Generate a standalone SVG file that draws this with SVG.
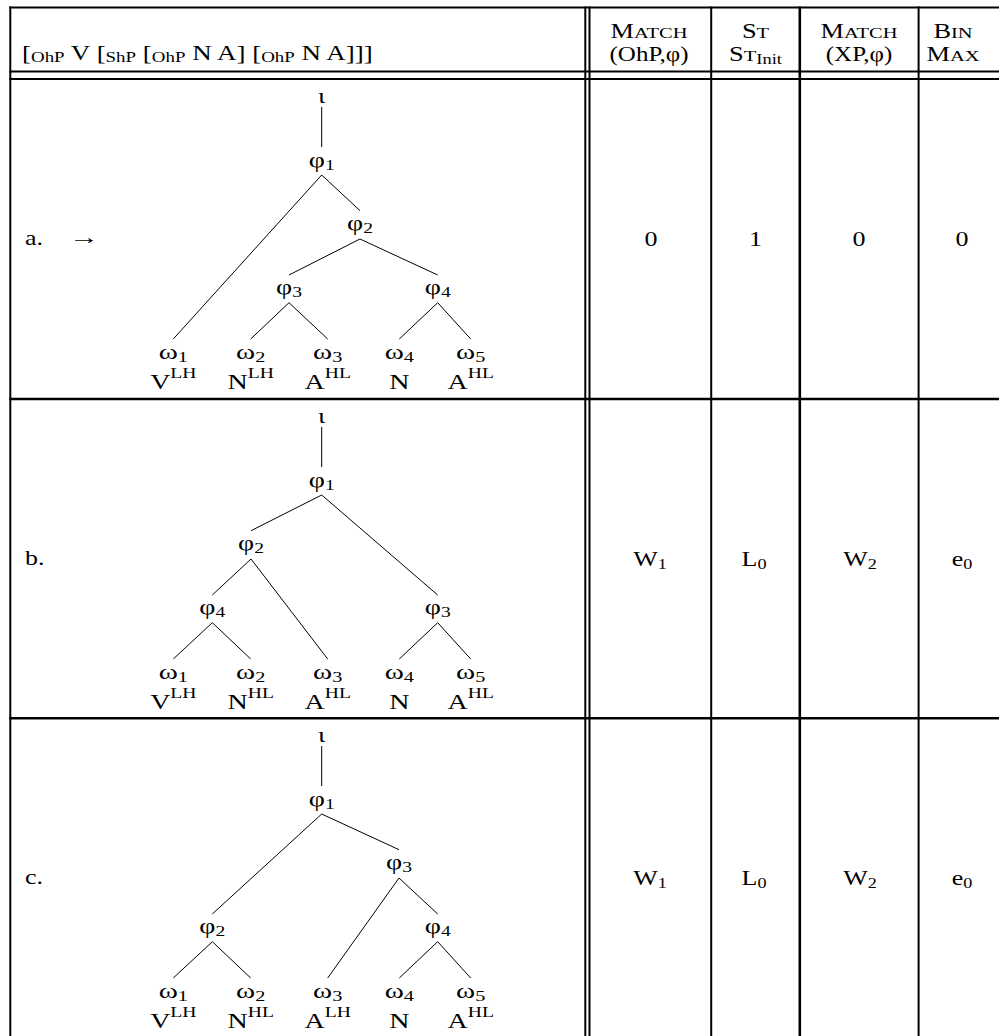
<svg xmlns="http://www.w3.org/2000/svg" width="999" height="1036" viewBox="0 0 999 1036">
<style>
.t{font-family:"Liberation Serif","Times New Roman",serif;font-size:20px;fill:#000}
.m{text-anchor:middle}
.s{font-size:14px}
.sc{font-size:15.5px}
.rule{stroke:#000;stroke-width:2;fill:none}
.rule2{stroke:#000;stroke-width:2.6;fill:none}
.edge{stroke:#000;stroke-width:1;fill:none}
</style>
<rect width="999" height="1036" fill="#fff"/>
<g id="table">
<line class="rule" x1="9.3" y1="7.5" x2="999" y2="7.5"/>
<line class="rule" x1="10.3" y1="6.5" x2="10.3" y2="1036"/>
<line class="rule" x1="9.3" y1="71.5" x2="999" y2="71.5"/>
<line class="rule" x1="9.3" y1="79" x2="999" y2="79"/>
<line class="rule2" x1="9.3" y1="399" x2="999" y2="399"/>
<line class="rule2" x1="9.3" y1="718.3" x2="999" y2="718.3"/>
<line class="rule" x1="585.3" y1="6.5" x2="585.3" y2="1036"/>
<line class="rule" x1="589.5" y1="6.5" x2="589.5" y2="1036"/>
<line class="rule" x1="711.2" y1="6.5" x2="711.2" y2="1036"/>
<line class="rule2" x1="799.8" y1="6.5" x2="799.8" y2="1036"/>
<line class="rule" x1="918.6" y1="6.5" x2="918.6" y2="1036"/>
</g>
<g id="header">
<text class="t" transform="translate(22,60) scale(1.35,1)" xml:space="preserve">[<tspan class="s" dy="2">OhP</tspan><tspan dy="-2"> V [</tspan><tspan class="s" dy="2">ShP</tspan><tspan dy="-2"> [</tspan><tspan class="s" dy="2">OhP</tspan><tspan dy="-2"> N A] [</tspan><tspan class="s" dy="2">OhP</tspan><tspan dy="-2"> N A]]]</tspan></text>
<text class="t m" transform="translate(649,38) scale(1.32,1)">M<tspan class="sc">ATCH</tspan></text>
<text class="t m" transform="translate(649,61) scale(1.25,1)">(OhP,φ)</text>
<text class="t m" transform="translate(755.5,38) scale(1.32,1)">S<tspan class="sc">T</tspan></text>
<text class="t m" transform="translate(755.5,61) scale(1.32,1)">S<tspan class="sc">T</tspan><tspan class="s" dy="3">Init</tspan></text>
<text class="t m" transform="translate(859,38) scale(1.32,1)">M<tspan class="sc">ATCH</tspan></text>
<text class="t m" transform="translate(859,61) scale(1.25,1)">(XP,φ)</text>
<text class="t m" transform="translate(953,38) scale(1.32,1)">B<tspan class="sc">IN</tspan></text>
<text class="t m" transform="translate(953,61) scale(1.32,1)">M<tspan class="sc">AX</tspan></text>
</g>
<g id="row-a">
<text class="t" transform="translate(25,245) scale(1.3,1)">a.</text>
<text class="t m" transform="translate(84,244) scale(1.5,1)">→</text>
<text class="t m" transform="translate(651,245.5) scale(1.3,1)">0</text>
<text class="t m" transform="translate(755.5,245.5) scale(1.3,1)">1</text>
<text class="t m" transform="translate(859,245.5) scale(1.3,1)">0</text>
<text class="t m" transform="translate(962,245.5) scale(1.3,1)">0</text>
</g>
<g id="row-b">
<text class="t" transform="translate(25,565) scale(1.3,1)">b.</text>
<text class="t m" transform="translate(650,565.5) scale(1.3,1)">W<tspan class="s" dy="3">1</tspan></text>
<text class="t m" transform="translate(754,565.5) scale(1.3,1)">L<tspan class="s" dy="3">0</tspan></text>
<text class="t m" transform="translate(860,565.5) scale(1.3,1)">W<tspan class="s" dy="3">2</tspan></text>
<text class="t m" transform="translate(962,565.5) scale(1.3,1)">e<tspan class="s" dy="3">0</tspan></text>
</g>
<g id="row-c">
<text class="t" transform="translate(25,884) scale(1.3,1)">c.</text>
<text class="t m" transform="translate(650,884.5) scale(1.3,1)">W<tspan class="s" dy="3">1</tspan></text>
<text class="t m" transform="translate(754,884.5) scale(1.3,1)">L<tspan class="s" dy="3">0</tspan></text>
<text class="t m" transform="translate(860,884.5) scale(1.3,1)">W<tspan class="s" dy="3">2</tspan></text>
<text class="t m" transform="translate(962,884.5) scale(1.3,1)">e<tspan class="s" dy="3">0</tspan></text>
</g>
<g id="connectors">
<line class="edge" x1="321.7" y1="107" x2="321.7" y2="147"/>
<line class="edge" x1="321.7" y1="175" x2="173.3" y2="339"/>
<line class="edge" x1="321.7" y1="175" x2="360" y2="210.7"/>
<line class="edge" x1="360" y1="239" x2="289" y2="275"/>
<line class="edge" x1="360" y1="239" x2="437.7" y2="275"/>
<line class="edge" x1="289" y1="302.7" x2="250.7" y2="339"/>
<line class="edge" x1="289" y1="302.7" x2="327.7" y2="339"/>
<line class="edge" x1="437.7" y1="302.7" x2="399.3" y2="339"/>
<line class="edge" x1="437.7" y1="302.7" x2="470.7" y2="339"/>
<line class="edge" x1="321.7" y1="427" x2="321.7" y2="467"/>
<line class="edge" x1="321.7" y1="495" x2="251" y2="530.7"/>
<line class="edge" x1="321.7" y1="495" x2="437.7" y2="595"/>
<line class="edge" x1="251" y1="559" x2="212.3" y2="595"/>
<line class="edge" x1="251" y1="559" x2="327.7" y2="659"/>
<line class="edge" x1="212.3" y1="622.7" x2="173.3" y2="659"/>
<line class="edge" x1="212.3" y1="622.7" x2="250.7" y2="659"/>
<line class="edge" x1="437.7" y1="622.7" x2="399.3" y2="659"/>
<line class="edge" x1="437.7" y1="622.7" x2="470.7" y2="659"/>
<line class="edge" x1="321.7" y1="746" x2="321.7" y2="786"/>
<line class="edge" x1="321.7" y1="814" x2="212.3" y2="914"/>
<line class="edge" x1="321.7" y1="814" x2="399" y2="849.7"/>
<line class="edge" x1="399" y1="878" x2="327.7" y2="978"/>
<line class="edge" x1="399" y1="878" x2="437.7" y2="914"/>
<line class="edge" x1="212.3" y1="941.7" x2="173.3" y2="978"/>
<line class="edge" x1="212.3" y1="941.7" x2="250.7" y2="978"/>
<line class="edge" x1="437.7" y1="941.7" x2="399.3" y2="978"/>
<line class="edge" x1="437.7" y1="941.7" x2="470.7" y2="978"/>
</g>
<g id="tree-a">
<g id="a-iota"><text class="t m" transform="translate(321.7,103) scale(1.35,1)">ι</text></g>
<g id="a-phi1"><text class="t m" transform="translate(321.7,166.5) scale(1.4,1)">φ<tspan class="s" dy="3">1</tspan></text></g>
<g id="a-phi2"><text class="t m" transform="translate(360,229.5) scale(1.4,1)">φ<tspan class="s" dy="3">2</tspan></text></g>
<g id="a-phi3"><text class="t m" transform="translate(289,293.8) scale(1.4,1)">φ<tspan class="s" dy="3">3</tspan></text></g>
<g id="a-phi4"><text class="t m" transform="translate(437.7,293.8) scale(1.4,1)">φ<tspan class="s" dy="3">4</tspan></text></g>
<g id="a-w1"><text class="t m" transform="translate(173.3,359) scale(1.45,1)">ω<tspan class="s" dy="3">1</tspan></text><text class="t m" transform="translate(173.3,389) scale(1.4,1)">V<tspan class="s" dy="-11">LH</tspan></text></g>
<g id="a-w2"><text class="t m" transform="translate(250.7,359) scale(1.45,1)">ω<tspan class="s" dy="3">2</tspan></text><text class="t m" transform="translate(250.7,389) scale(1.4,1)">N<tspan class="s" dy="-11">LH</tspan></text></g>
<g id="a-w3"><text class="t m" transform="translate(327.7,359) scale(1.45,1)">ω<tspan class="s" dy="3">3</tspan></text><text class="t m" transform="translate(327.7,389) scale(1.4,1)">A<tspan class="s" dy="-11">HL</tspan></text></g>
<g id="a-w4"><text class="t m" transform="translate(399.3,359) scale(1.45,1)">ω<tspan class="s" dy="3">4</tspan></text><text class="t m" transform="translate(399.3,389) scale(1.4,1)">N</text></g>
<g id="a-w5"><text class="t m" transform="translate(470.7,359) scale(1.45,1)">ω<tspan class="s" dy="3">5</tspan></text><text class="t m" transform="translate(470.7,389) scale(1.4,1)">A<tspan class="s" dy="-11">HL</tspan></text></g>
</g>
<g id="tree-b">
<g id="b-iota"><text class="t m" transform="translate(321.7,423) scale(1.35,1)">ι</text></g>
<g id="b-phi1"><text class="t m" transform="translate(321.7,486.5) scale(1.4,1)">φ<tspan class="s" dy="3">1</tspan></text></g>
<g id="b-phi2"><text class="t m" transform="translate(251,549.5) scale(1.4,1)">φ<tspan class="s" dy="3">2</tspan></text></g>
<g id="b-phi4"><text class="t m" transform="translate(212.3,613.8) scale(1.4,1)">φ<tspan class="s" dy="3">4</tspan></text></g>
<g id="b-phi3"><text class="t m" transform="translate(437.7,613.8) scale(1.4,1)">φ<tspan class="s" dy="3">3</tspan></text></g>
<g id="b-w1"><text class="t m" transform="translate(173.3,679) scale(1.45,1)">ω<tspan class="s" dy="3">1</tspan></text><text class="t m" transform="translate(173.3,709) scale(1.4,1)">V<tspan class="s" dy="-11">LH</tspan></text></g>
<g id="b-w2"><text class="t m" transform="translate(250.7,679) scale(1.45,1)">ω<tspan class="s" dy="3">2</tspan></text><text class="t m" transform="translate(250.7,709) scale(1.4,1)">N<tspan class="s" dy="-11">HL</tspan></text></g>
<g id="b-w3"><text class="t m" transform="translate(327.7,679) scale(1.45,1)">ω<tspan class="s" dy="3">3</tspan></text><text class="t m" transform="translate(327.7,709) scale(1.4,1)">A<tspan class="s" dy="-11">HL</tspan></text></g>
<g id="b-w4"><text class="t m" transform="translate(399.3,679) scale(1.45,1)">ω<tspan class="s" dy="3">4</tspan></text><text class="t m" transform="translate(399.3,709) scale(1.4,1)">N</text></g>
<g id="b-w5"><text class="t m" transform="translate(470.7,679) scale(1.45,1)">ω<tspan class="s" dy="3">5</tspan></text><text class="t m" transform="translate(470.7,709) scale(1.4,1)">A<tspan class="s" dy="-11">HL</tspan></text></g>
</g>
<g id="tree-c">
<g id="c-iota"><text class="t m" transform="translate(321.7,742) scale(1.35,1)">ι</text></g>
<g id="c-phi1"><text class="t m" transform="translate(321.7,805.5) scale(1.4,1)">φ<tspan class="s" dy="3">1</tspan></text></g>
<g id="c-phi3"><text class="t m" transform="translate(399,868.5) scale(1.4,1)">φ<tspan class="s" dy="3">3</tspan></text></g>
<g id="c-phi2"><text class="t m" transform="translate(212.3,932.8) scale(1.4,1)">φ<tspan class="s" dy="3">2</tspan></text></g>
<g id="c-phi4"><text class="t m" transform="translate(437.7,932.8) scale(1.4,1)">φ<tspan class="s" dy="3">4</tspan></text></g>
<g id="c-w1"><text class="t m" transform="translate(173.3,998) scale(1.45,1)">ω<tspan class="s" dy="3">1</tspan></text><text class="t m" transform="translate(173.3,1028) scale(1.4,1)">V<tspan class="s" dy="-11">LH</tspan></text></g>
<g id="c-w2"><text class="t m" transform="translate(250.7,998) scale(1.45,1)">ω<tspan class="s" dy="3">2</tspan></text><text class="t m" transform="translate(250.7,1028) scale(1.4,1)">N<tspan class="s" dy="-11">HL</tspan></text></g>
<g id="c-w3"><text class="t m" transform="translate(327.7,998) scale(1.45,1)">ω<tspan class="s" dy="3">3</tspan></text><text class="t m" transform="translate(327.7,1028) scale(1.4,1)">A<tspan class="s" dy="-11">LH</tspan></text></g>
<g id="c-w4"><text class="t m" transform="translate(399.3,998) scale(1.45,1)">ω<tspan class="s" dy="3">4</tspan></text><text class="t m" transform="translate(399.3,1028) scale(1.4,1)">N</text></g>
<g id="c-w5"><text class="t m" transform="translate(470.7,998) scale(1.45,1)">ω<tspan class="s" dy="3">5</tspan></text><text class="t m" transform="translate(470.7,1028) scale(1.4,1)">A<tspan class="s" dy="-11">HL</tspan></text></g>
</g>
</svg>
